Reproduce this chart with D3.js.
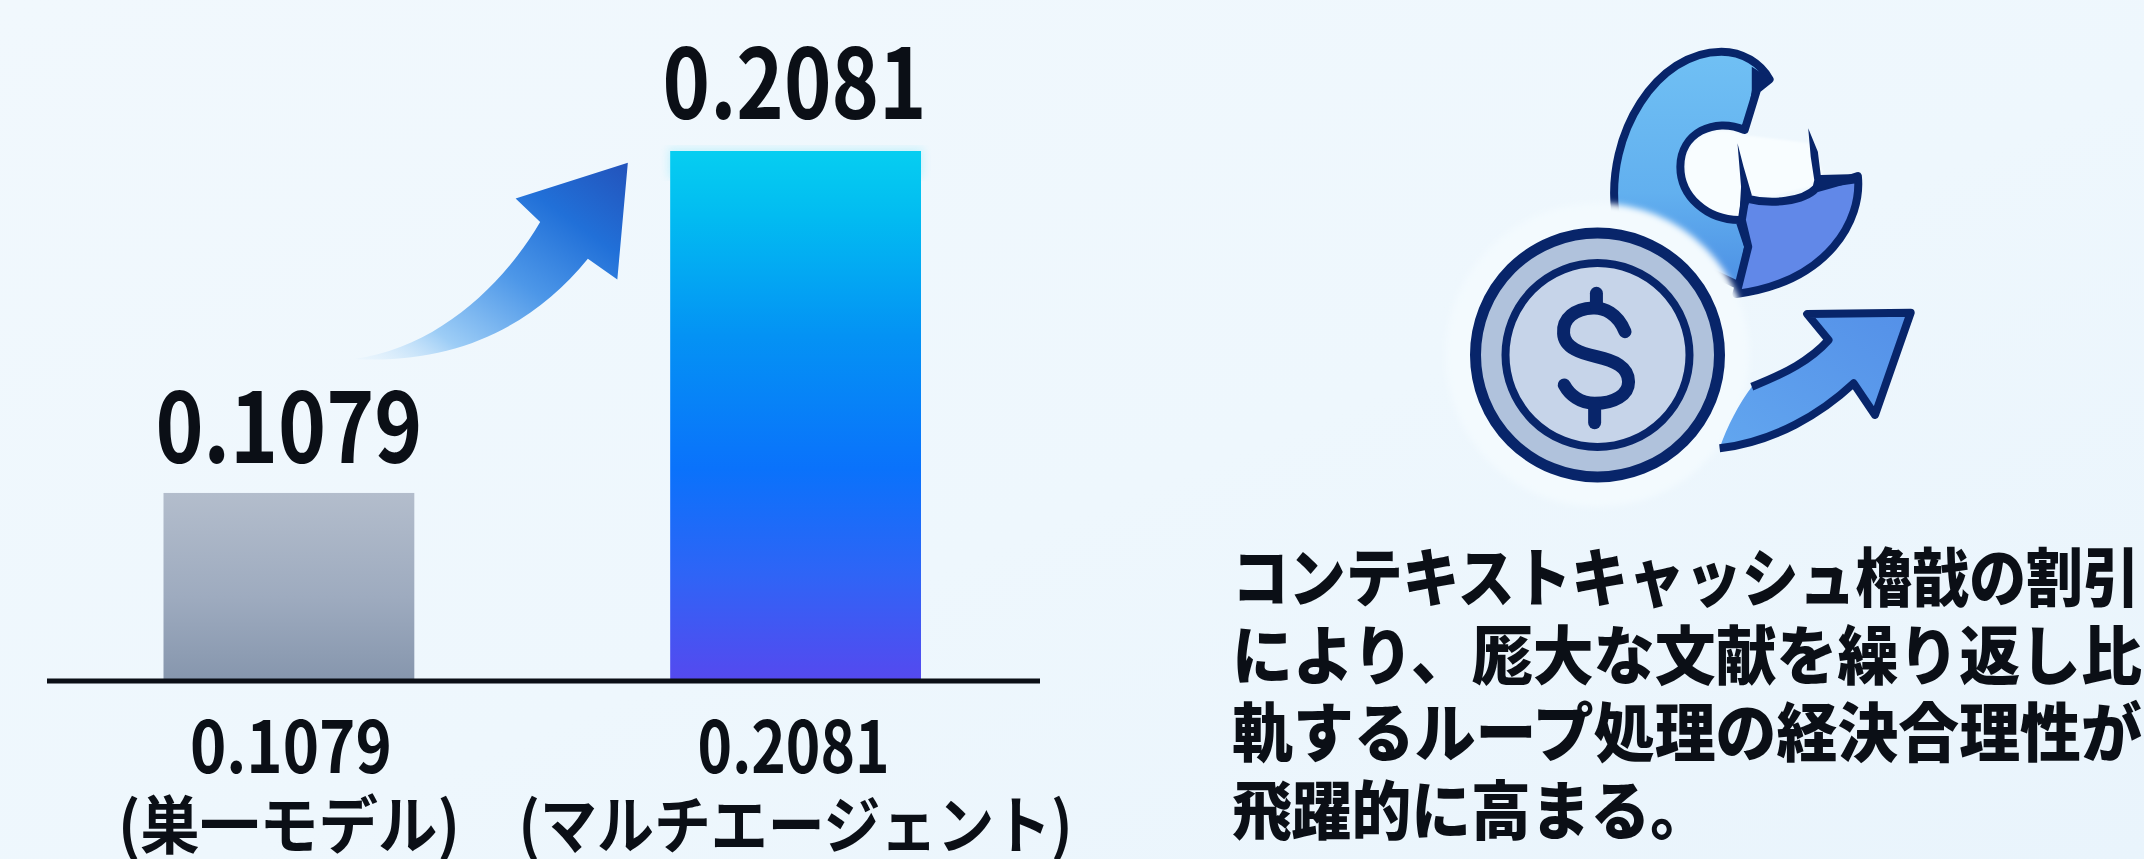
<!DOCTYPE html>
<html lang="ja">
<head>
<meta charset="utf-8">
<script src="https://cdn.jsdelivr.net/npm/d3@7"></script>
<style>
html,body{margin:0;padding:0;background:#eff7fd;overflow:hidden}
svg{display:block}
text{font-family:"Noto Sans CJK JP","Noto Sans",sans-serif;font-weight:700;fill:#0b0f16}
text.body{font-weight:900}
</style>
</head>
<body>
<svg id="c" width="2144" height="859"></svg>
<script>
const categories = ["単一モデル", "マルチエージェント"];
const values = [0.1079, 0.2081];
const valueLabels = ["0.1079", "0.2081"];
const tickLines1 = ["0.1079", "0.2081"];
const tickLines2 = ["(巣一モデル)", "(マルチエージェント)"];
const bodyLines = [
  "コンテキストキャッシュ櫓戠の割引",
  "により、厖大な文献を繰り返し比",
  "軌するループ処理の経決合理性が",
  "飛躍的に高まる。"
];

const svg = d3.select("#c");
const defs = svg.append("defs");

function gradient(id, stops, x1, y1, x2, y2) {
  const g = defs.append("linearGradient").attr("id", id)
    .attr("x1", x1).attr("y1", y1).attr("x2", x2).attr("y2", y2);
  stops.forEach(s => g.append("stop").attr("offset", s[0]).attr("stop-color", s[1])
    .attr("stop-opacity", s[2] === undefined ? 1 : s[2]));
}
gradient("bg", [[0, "#f1f8fd"], [0.55, "#eef7fd"], [1, "#e9f4fc"]], 0, 0, 1, 1);
gradient("barGrey", [[0, "#b3bdcc"], [0.55, "#9eabbf"], [1, "#8696ad"]], 0, 0, 0, 1);
gradient("barBlue", [[0, "#06cef1"], [0.12, "#02bcf1"], [0.35, "#0492f4"], [0.6, "#0a72fb"], [0.8, "#2f64f6"], [1, "#5549ef"]], 0, 0, 0, 1);
gradient("bigArrow", [[0, "#d8ecfb", 0.15], [0.22, "#9dcdf6"], [0.5, "#4d97e8"], [0.75, "#2170d8"], [1, "#2353bb"]], 0, 1, 1, 0);
gradient("cLight", [[0, "#70c0f4"], [0.6, "#62b0ef"], [1, "#4c8fe4"]], 0, 0, 0, 1);
gradient("smallArrow", [[0, "#62a6ef"], [1, "#5490e8"]], 0, 1, 1, 0);
defs.append("filter").attr("id", "halo").attr("x", "-30%").attr("y", "-30%").attr("width", "160%").attr("height", "160%")
  .append("feGaussianBlur").attr("stdDeviation", 3);
defs.append("filter").attr("id", "glow").attr("x", "-10%").attr("y", "-10%").attr("width", "120%").attr("height", "120%")
  .append("feGaussianBlur").attr("stdDeviation", 4);

svg.append("rect").attr("width", 2144).attr("height", 859).attr("fill", "url(#bg)");

// ---------- chart ----------
const x = d3.scaleBand().domain(categories).range([163.5, 921]).paddingInner(0.505).paddingOuter(0);
const y = d3.scaleLinear().domain([0.0528, 0.2081]).range([681, 151]);
const fills = ["url(#barGrey)", "url(#barBlue)"];
const rows = categories.map((c, i) => ({c, v: values[i], i}));

svg.append("rect").attr("x", x(categories[1]) - 2).attr("y", y(values[1]) - 3)
  .attr("width", x.bandwidth() + 4).attr("height", 30)
  .attr("fill", "#3fe0fa").attr("opacity", 0.22).attr("filter", "url(#glow)");

svg.selectAll("rect.bar").data(rows).join("rect").attr("class", "bar")
  .attr("x", d => x(d.c)).attr("y", d => y(d.v))
  .attr("width", x.bandwidth()).attr("height", d => y.range()[0] - y(d.v))
  .attr("fill", d => fills[d.i]);

svg.append("line").attr("x1", 47).attr("x2", 1040).attr("y1", y.range()[0]).attr("y2", y.range()[0])
  .attr("stroke", "#0b0f16").attr("stroke-width", 5);

const centre = c => x(c) + x.bandwidth() / 2;
function label(cls, text, cx, by, size, len) {
  svg.append("text").attr("class", cls).attr("x", cx).attr("y", by)
    .attr("text-anchor", "middle").attr("font-size", size)
    .attr("textLength", len).attr("lengthAdjust", "spacingAndGlyphs").text(text);
}
rows.forEach(d => label("value", valueLabels[d.i], centre(d.c) + (d.i ? -1 : 0), y(d.v) - (d.i ? 32 : 30), 97, d.i ? 264 : 267));
rows.forEach(d => label("tick", tickLines1[d.i], centre(d.c) + (d.i ? -2 : 2), 773, 71, d.i ? 192 : 202));
rows.forEach(d => label("tick2", tickLines2[d.i], centre(d.c), 848, 63, d.i ? 554 : 342));

// growth arrow
svg.append("path")
  .attr("transform", "scale(0.7015,0.548)")
  .attr("fill", "url(#bigArrow)")
  .attr("d", "M505,655 C625,635 720,515 770,405 L735,362 L895,297 L880,510 L838,472 C760,595 650,665 505,655 Z");

// ---------- icon ----------
const icon = svg.append("g");
const iconT = "translate(1400,20) scale(0.35714,0.33333)";
const behind = icon.append("g").attr("transform", iconT);
const stroke = "#08256a";
const ns = sel => sel.attr("vector-effect", "non-scaling-stroke").attr("stroke-linejoin", "round");

// soft light patch in the hole of the C
behind.append("path").attr("fill", "#f8fdff").attr("filter", "url(#halo)")
  .attr("d", "M960,345 C880,310 800,350 800,440 C800,530 860,590 950,590 L960,525 L1040,530 L1150,500 L1185,460 L1150,370 Z");

ns(behind.append("path").attr("fill", "url(#cLight)").attr("stroke", stroke).attr("stroke-width", 8))
  .attr("d", "M603,580 C575,340 720,95 900,95 C960,95 1010,130 1035,178 L1000,208 L965,330 C880,290 785,340 785,440 C785,530 860,600 950,600 L975,680 L955,800 L760,700 Z");
ns(behind.append("path").attr("fill", "#6188e8").attr("stroke", stroke).attr("stroke-width", 8))
  .attr("d", "M967,535 C1040,555 1130,545 1165,505 C1200,495 1250,480 1282,468 C1295,600 1200,785 942,822 L975,680 L957,600 Z");
// dark torn edges
behind.append("path").attr("fill", stroke).attr("d", "M945,370 L962,440 L985,525 L960,600 L950,590 L955,500 Z");
behind.append("path").attr("fill", stroke).attr("d", "M1143,325 L1170,395 L1178,465 L1282,462 L1278,490 L1180,505 L1150,525 L1160,480 L1150,410 Z");
behind.append("path").attr("fill", stroke).attr("d", "M985,140 L1040,178 L1005,212 L968,332 L985,210 Z");

// pale band separates coin from the shape behind it
icon.append("circle").attr("cx", 1597.5).attr("cy", 355).attr("r", 152).attr("fill", "#f3fafe").attr("filter", "url(#halo)");

const front = icon.append("g").attr("transform", iconT);
front.append("path").attr("fill", "url(#smallArrow)")
  .attr("d", "M895,1285 C915,1220 950,1150 985,1100 C1080,1060 1150,1020 1200,960 L1135,880 L1435,875 L1330,1185 L1270,1090 C1180,1180 1050,1265 895,1285 Z");
ns(front.append("path").attr("fill", "none").attr("stroke", stroke).attr("stroke-width", 8))
  .attr("d", "M985,1100 C1080,1060 1150,1020 1200,960 L1140,882 L1430,878 L1330,1185 L1270,1090 C1180,1180 1050,1265 895,1285");

icon.append("circle").attr("cx", 1597.5).attr("cy", 355).attr("r", 122).attr("fill", "#b0c2dc").attr("stroke", stroke).attr("stroke-width", 11);
icon.append("circle").attr("cx", 1597.5).attr("cy", 355).attr("r", 92).attr("fill", "#c6d4e9").attr("stroke", stroke).attr("stroke-width", 8);
const dollar = icon.append("g").attr("transform", iconT)
  .attr("fill", "none").attr("stroke", stroke).attr("stroke-width", 13).attr("stroke-linecap", "round");
ns(dollar.append("path")).attr("d", "M630,935 C610,880 570,862 540,864 C490,866 455,895 458,940 C460,985 510,1000 550,1010 C600,1022 640,1040 640,1085 C640,1125 600,1150 545,1150 C505,1150 475,1125 460,1095");
ns(dollar.append("path")).attr("d", "M550,820 L550,862");
ns(dollar.append("path")).attr("d", "M545,1152 L545,1208");

// ---------- body text ----------
const bodyWidths = [908, 910, 910, 478];
svg.selectAll("text.body").data(bodyLines).join("text").attr("class", "body")
  .attr("font-size", 64).text(d => d)
  .attr("transform", function (d, i) {
    const sx = bodyWidths[i] / this.getComputedTextLength();
    return `translate(1232,${601 + i * 77.5}) scale(${sx},1)`;
  });
</script>
</body>
</html>
